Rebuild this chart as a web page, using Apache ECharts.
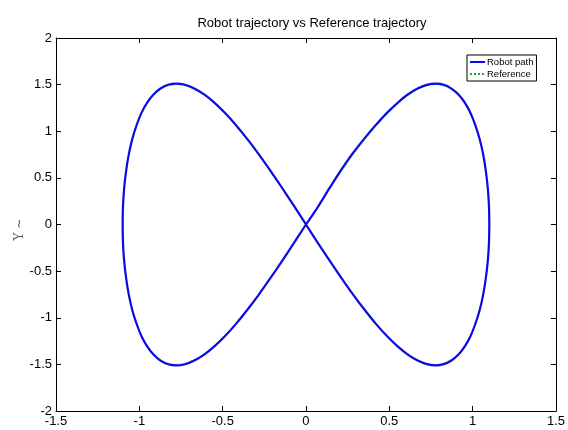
<!DOCTYPE html>
<html>
<head>
<meta charset="utf-8">
<script src="https://cdn.jsdelivr.net/npm/echarts@6/dist/echarts.min.js"></script>
<style>
  html, body { margin: 0; padding: 0; background: #fff; }
  #chart { width: 568px; height: 430px; }
</style>
</head>
<body>
<div id="chart"></div>
<script>
// values
const xTicks = [-1.5, -1, -0.5, 0, 0.5, 1, 1.5];
const yTicks = [-2, -1.5, -1, -0.5, 0, 0.5, 1, 1.5, 2];

// reference figure-eight, traced point by point
const refX = [
  0, 0.072, 0.144, 0.215, 0.285, 0.354, 0.421, 0.487, 0.550, 0.611, 0.670, 0.725, 0.778, 0.827, 0.873, 0.915, 0.953, 0.987, 1.016, 1.042, 1.063, 1.079, 1.091, 1.098, 1.100,
  1.098, 1.091, 1.079, 1.063, 1.042, 1.016, 0.987, 0.953, 0.915, 0.873, 0.827, 0.778, 0.725, 0.670, 0.611, 0.550, 0.487, 0.421, 0.354, 0.285, 0.215, 0.144, 0.072, 0,
  -0.072, -0.144, -0.215, -0.285, -0.354, -0.421, -0.487, -0.550, -0.611, -0.670, -0.725, -0.778, -0.827, -0.873, -0.915, -0.953, -0.987, -1.016, -1.042, -1.063, -1.079, -1.091, -1.098, -1.100,
  -1.098, -1.091, -1.079, -1.063, -1.042, -1.016, -0.987, -0.953, -0.915, -0.873, -0.827, -0.778, -0.725, -0.670, -0.611, -0.550, -0.487, -0.421, -0.354, -0.285, -0.215, -0.144, -0.072, 0];
const refY = [
  0, 0.196, 0.388, 0.574, 0.750, 0.913, 1.061, 1.190, 1.299, 1.386, 1.449, 1.487, 1.500, 1.487, 1.449, 1.386, 1.299, 1.190, 1.061, 0.913, 0.750, 0.574, 0.388, 0.196, 0,
  -0.196, -0.388, -0.574, -0.750, -0.913, -1.061, -1.190, -1.299, -1.386, -1.449, -1.487, -1.500, -1.487, -1.449, -1.386, -1.299, -1.190, -1.061, -0.913, -0.750, -0.574, -0.388, -0.196, 0,
  0.196, 0.388, 0.574, 0.750, 0.913, 1.061, 1.190, 1.299, 1.386, 1.449, 1.487, 1.500, 1.487, 1.449, 1.386, 1.299, 1.190, 1.061, 0.913, 0.750, 0.574, 0.388, 0.196, 0,
  -0.196, -0.388, -0.574, -0.750, -0.913, -1.061, -1.190, -1.299, -1.386, -1.449, -1.487, -1.500, -1.487, -1.449, -1.386, -1.299, -1.190, -1.061, -0.913, -0.750, -0.574, -0.388, -0.196, 0];

// measured robot path (slightly noisy)
const robotX = [
  0, 0.072, 0.142, 0.212, 0.280, 0.350, 0.419, 0.486, 0.550, 0.611, 0.670, 0.725, 0.778, 0.827, 0.873, 0.915, 0.953, 0.987, 1.016, 1.042, 1.063, 1.079, 1.091, 1.098, 1.100,
  1.098, 1.091, 1.079, 1.063, 1.042, 1.016, 0.987, 0.953, 0.915, 0.873, 0.827, 0.778, 0.725, 0.670, 0.611, 0.550, 0.487, 0.421, 0.354, 0.285, 0.215, 0.144, 0.072, 0,
  -0.072, -0.144, -0.215, -0.285, -0.354, -0.421, -0.487, -0.550, -0.611, -0.670, -0.725, -0.778, -0.827, -0.873, -0.915, -0.953, -0.987, -1.016, -1.042, -1.063, -1.079, -1.091, -1.098, -1.100,
  -1.098, -1.091, -1.079, -1.063, -1.042, -1.016, -0.987, -0.953, -0.915, -0.873, -0.827, -0.778, -0.725, -0.670, -0.611, -0.550, -0.487, -0.421, -0.354, -0.285, -0.215, -0.144, -0.072, 0];
const robotY = [
  0, 0.190, 0.392, 0.588, 0.762, 0.921, 1.066, 1.197, 1.305, 1.394, 1.458, 1.497, 1.510, 1.498, 1.457, 1.393, 1.306, 1.196, 1.066, 0.917, 0.754, 0.577, 0.390, 0.197, 0,
  -0.197, -0.390, -0.578, -0.755, -0.919, -1.067, -1.198, -1.307, -1.395, -1.458, -1.497, -1.511, -1.497, -1.459, -1.395, -1.307, -1.198, -1.068, -0.920, -0.757, -0.580, -0.393, -0.199, 0,
  0.199, 0.394, 0.581, 0.758, 0.921, 1.068, 1.198, 1.307, 1.395, 1.459, 1.498, 1.511, 1.498, 1.458, 1.394, 1.306, 1.197, 1.067, 0.918, 0.755, 0.578, 0.391, 0.197, 0,
  -0.197, -0.391, -0.578, -0.755, -0.919, -1.067, -1.198, -1.307, -1.395, -1.459, -1.498, -1.511, -1.498, -1.459, -1.395, -1.307, -1.198, -1.068, -0.920, -0.757, -0.579, -0.392, -0.198, 0];

const zip = (xs, ys) => xs.map((x, i) => [x, ys[i]]);

const font = 'Liberation Sans, Arial, sans-serif';

const axisCommon = {
  type: 'value',
  axisLine: { show: true, onZero: false, lineStyle: { color: '#000', width: 1 } },
  axisTick: { show: true, inside: true, length: 5, lineStyle: { color: '#000' } },
  splitLine: { show: false },
  axisLabel: { color: '#000', fontSize: 13, fontFamily: font }
};

const chart = echarts.init(document.getElementById('chart'), null, { renderer: 'canvas' });

chart.setOption({
  backgroundColor: '#fff',
  animation: false,
  title: {
    text: 'Robot trajectory vs Reference trajectory',
    left: 307,
    top: 12,
    textAlign: 'center',
    textStyle: { fontSize: 13, fontWeight: 'normal', color: '#000', fontFamily: font }
  },
  legend: {
    data: ['Robot path', 'Reference'],
    orient: 'vertical',
    left: 467,
    top: 55,
    padding: [2, 3, 2, 2],
    itemGap: 2,
    itemWidth: 15,
    itemHeight: 9,
    borderColor: '#000',
    borderWidth: 1,
    backgroundColor: '#fff',
    itemStyle: { opacity: 0 },
    textStyle: { fontSize: 9.5, color: '#000', fontFamily: font, padding: [0, 0, 0, -3] }
  },
  grid: { left: 56, right: 10, top: 38, bottom: 19, containLabel: false },
  xAxis: [
    Object.assign({}, axisCommon, {
      min: xTicks[0], max: xTicks[xTicks.length - 1], interval: 0.5,
      position: 'bottom',
      axisLabel: Object.assign({}, axisCommon.axisLabel, { margin: 4 })
    }),
    Object.assign({}, axisCommon, {
      min: xTicks[0], max: xTicks[xTicks.length - 1], interval: 0.5,
      position: 'top',
      axisLabel: { show: false }
    })
  ],
  yAxis: [
    Object.assign({}, axisCommon, {
      min: yTicks[0], max: yTicks[yTicks.length - 1], interval: 0.5,
      position: 'left',
      name: 'Y ~',
      nameLocation: 'middle',
      nameGap: 30,
      nameMoveOverlap: false,
      nameRotate: 90,
      nameTextStyle: { color: '#555', fontSize: 12, fontFamily: 'DejaVu Serif, serif', padding: [0, 0, 0, -10] },
      axisLabel: Object.assign({}, axisCommon.axisLabel, { margin: 4 })
    }),
    Object.assign({}, axisCommon, {
      min: yTicks[0], max: yTicks[yTicks.length - 1], interval: 0.5,
      position: 'right',
      axisLabel: { show: false }
    })
  ],
  series: [
    {
      name: 'Reference',
      type: 'line',
      data: zip(refX, refY),
      symbol: 'none',
      smooth: 0.3,
      z: 2,
      lineStyle: { color: '#22aa22', width: 1, type: 'dotted' },
      itemStyle: { color: '#22aa22' }
    },
    {
      name: 'Robot path',
      type: 'line',
      data: zip(robotX, robotY),
      symbol: 'none',
      smooth: 0.3,
      z: 3,
      lineStyle: { color: '#0a0ae6', width: 2.2 },
      itemStyle: { color: '#0a0ae6' }
    }
  ]
});
</script>
</body>
</html>
